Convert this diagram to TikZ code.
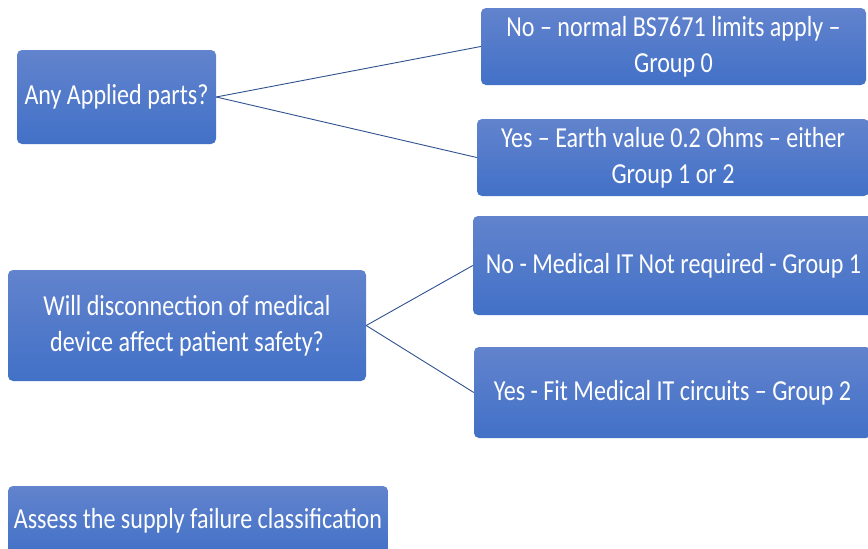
\documentclass[tikz,border=0pt]{standalone}
\usepackage{fontspec}
\setmainfont{Carlito}[FakeStretch=0.83]
\definecolor{boxtop}{RGB}{98,131,205}
\definecolor{boxbot}{RGB}{66,113,199}
\definecolor{linkblue}{RGB}{47,82,143}
\begin{document}
\begin{tikzpicture}[
  x=1pt, y=-1pt,
  box/.style={rounded corners=5pt, top color=boxtop, bottom color=boxbot, draw=none,
    text=white, align=center, inner sep=0pt, font=\fontsize{29}{36}\selectfont},
  link/.style={draw=linkblue, line width=0.9pt}
]
\useasboundingbox (0,0) rectangle (868,549);
\node[box, minimum width=385, minimum height=77]  (normal)   at (673.5, 46.5) {No – normal BS7671 limits apply –\\Group 0};
\node[box, minimum width=199, minimum height=94]  (applied)  at (116.5, 97)   {Any Applied parts?};
\node[box, minimum width=392, minimum height=77]  (earth)    at (673, 157.5)  {Yes – Earth value 0.2 Ohms – either\\Group 1 or 2};
\node[box, minimum width=358, minimum height=111] (disconn)  at (187, 325.5)  {Will disconnection of medical\\device affect patient safety?};
\node[box, minimum width=401, minimum height=99]  (noit)     at (673.5, 265.5) {No - Medical IT Not required - Group 1};
\node[box, minimum width=397, minimum height=91]  (fitit)    at (672.5, 392.5) {Yes - Fit Medical IT circuits – Group 2};
\node[box, minimum width=380, minimum height=70]  (assess)   at (198, 521)    {Assess the supply failure classification};
\draw[link] (applied.east) -- (normal.west);
\draw[link] (applied.east) -- (earth.west);
\draw[link] (disconn.east) -- (noit.west);
\draw[link] (disconn.east) -- (fitit.west);
\end{tikzpicture}
\end{document}
